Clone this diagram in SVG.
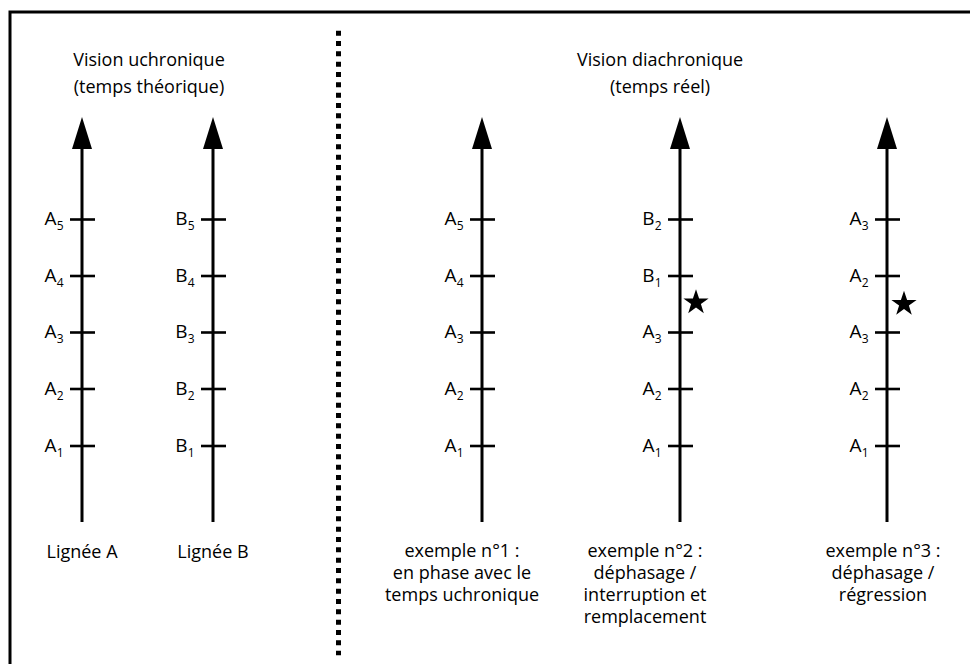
<svg xmlns="http://www.w3.org/2000/svg" width="970" height="664" viewBox="0 0 970 664">
<style>
text{font-family:"Open Sans","Noto Sans","DejaVu Sans",sans-serif;font-size:18px;fill:#000}
.lbl{text-anchor:end;font-size:19px}
.sub{font-size:12px}
.c{text-anchor:middle}
.axis{stroke:#000;stroke-width:3;fill:none}
.tick{stroke:#000;stroke-width:2.6}
.head{fill:#000}
</style>
<defs>
<polygon id="star" points="0,-13.3 3.1,-4.1 12.6,-4.1 4.9,1.6 7.8,10.8 0,5.1 -7.8,10.8 -4.9,1.6 -12.6,-4.1 -3.1,-4.1"/>
</defs>
<rect width="970" height="664" fill="#fff"/>
<path d="M10 664 V12 H970" fill="none" stroke="#000" stroke-width="3"/>
<line x1="338.5" y1="30.7" x2="338.5" y2="655.3" stroke="#000" stroke-width="5" stroke-dasharray="5 5.333"/>

<g id="title-left">
<text class="c" x="149" y="66">Vision uchronique</text>
<text class="c" x="149" y="93">(temps théorique)</text>
</g>
<g id="title-right">
<text class="c" x="660" y="66">Vision diachronique</text>
<text class="c" x="660" y="93">(temps réel)</text>
</g>

<g id="connectors">
<line class="axis" x1="82" y1="145" x2="82" y2="522"/>
<polygon class="head" points="82,117 92,149 72,149"/>
<line class="axis" x1="213" y1="145" x2="213" y2="522"/>
<polygon class="head" points="213,117 223,149 203,149"/>
<line class="axis" x1="482" y1="145" x2="482" y2="522"/>
<polygon class="head" points="482,117 492,149 472,149"/>
<line class="axis" x1="680" y1="145" x2="680" y2="522"/>
<polygon class="head" points="680,117 690,149 670,149"/>
<line class="axis" x1="887" y1="145" x2="887" y2="522"/>
<polygon class="head" points="887,117 897,149 877,149"/>
</g>

<g id="lineage-A">
<g class="tick">
<line x1="70" y1="219.5" x2="95" y2="219.5"/><line x1="70" y1="276" x2="95" y2="276"/><line x1="70" y1="332.5" x2="95" y2="332.5"/><line x1="70" y1="389" x2="95" y2="389"/><line x1="70" y1="446" x2="95" y2="446"/>
</g>
<text class="lbl" x="63.5" y="225">A<tspan class="sub" dy="5">5</tspan></text>
<text class="lbl" x="63.5" y="281.5">A<tspan class="sub" dy="5">4</tspan></text>
<text class="lbl" x="63.5" y="338">A<tspan class="sub" dy="5">3</tspan></text>
<text class="lbl" x="63.5" y="394.5">A<tspan class="sub" dy="5">2</tspan></text>
<text class="lbl" x="63.5" y="451.5">A<tspan class="sub" dy="5">1</tspan></text>
<text class="c" x="82" y="558">Lignée A</text>
</g>

<g id="lineage-B">
<g class="tick">
<line x1="201" y1="219.5" x2="226" y2="219.5"/><line x1="201" y1="276" x2="226" y2="276"/><line x1="201" y1="332.5" x2="226" y2="332.5"/><line x1="201" y1="389" x2="226" y2="389"/><line x1="201" y1="446" x2="226" y2="446"/>
</g>
<text class="lbl" x="194.5" y="225">B<tspan class="sub" dy="5">5</tspan></text>
<text class="lbl" x="194.5" y="281.5">B<tspan class="sub" dy="5">4</tspan></text>
<text class="lbl" x="194.5" y="338">B<tspan class="sub" dy="5">3</tspan></text>
<text class="lbl" x="194.5" y="394.5">B<tspan class="sub" dy="5">2</tspan></text>
<text class="lbl" x="194.5" y="451.5">B<tspan class="sub" dy="5">1</tspan></text>
<text class="c" x="213" y="558">Lignée B</text>
</g>

<g id="example-1">
<g class="tick">
<line x1="470" y1="219.5" x2="495" y2="219.5"/><line x1="470" y1="276" x2="495" y2="276"/><line x1="470" y1="332.5" x2="495" y2="332.5"/><line x1="470" y1="389" x2="495" y2="389"/><line x1="470" y1="446" x2="495" y2="446"/>
</g>
<text class="lbl" x="463.5" y="225">A<tspan class="sub" dy="5">5</tspan></text>
<text class="lbl" x="463.5" y="281.5">A<tspan class="sub" dy="5">4</tspan></text>
<text class="lbl" x="463.5" y="338">A<tspan class="sub" dy="5">3</tspan></text>
<text class="lbl" x="463.5" y="394.5">A<tspan class="sub" dy="5">2</tspan></text>
<text class="lbl" x="463.5" y="451.5">A<tspan class="sub" dy="5">1</tspan></text>
<text class="c" x="462" y="557">exemple n°1 :</text>
<text class="c" x="462" y="579">en phase avec le</text>
<text class="c" x="462" y="601">temps uchronique</text>
</g>

<g id="example-2">
<g class="tick">
<line x1="668" y1="219.5" x2="693" y2="219.5"/><line x1="668" y1="276" x2="693" y2="276"/><line x1="668" y1="332.5" x2="693" y2="332.5"/><line x1="668" y1="389" x2="693" y2="389"/><line x1="668" y1="446" x2="693" y2="446"/>
</g>
<text class="lbl" x="661.5" y="225">B<tspan class="sub" dy="5">2</tspan></text>
<text class="lbl" x="661.5" y="281.5">B<tspan class="sub" dy="5">1</tspan></text>
<text class="lbl" x="661.5" y="338">A<tspan class="sub" dy="5">3</tspan></text>
<text class="lbl" x="661.5" y="394.5">A<tspan class="sub" dy="5">2</tspan></text>
<text class="lbl" x="661.5" y="451.5">A<tspan class="sub" dy="5">1</tspan></text>
<use href="#star" x="696" y="302.5"/>
<text class="c" x="645" y="557">exemple n°2 :</text>
<text class="c" x="645" y="579">déphasage /</text>
<text class="c" x="645" y="601">interruption et</text>
<text class="c" x="645" y="623">remplacement</text>
</g>

<g id="example-3">
<g class="tick">
<line x1="875" y1="219.5" x2="900" y2="219.5"/><line x1="875" y1="276" x2="900" y2="276"/><line x1="875" y1="332.5" x2="900" y2="332.5"/><line x1="875" y1="389" x2="900" y2="389"/><line x1="875" y1="446" x2="900" y2="446"/>
</g>
<text class="lbl" x="868.5" y="225">A<tspan class="sub" dy="5">3</tspan></text>
<text class="lbl" x="868.5" y="281.5">A<tspan class="sub" dy="5">2</tspan></text>
<text class="lbl" x="868.5" y="338">A<tspan class="sub" dy="5">3</tspan></text>
<text class="lbl" x="868.5" y="394.5">A<tspan class="sub" dy="5">2</tspan></text>
<text class="lbl" x="868.5" y="451.5">A<tspan class="sub" dy="5">1</tspan></text>
<use href="#star" x="904" y="304"/>
<text class="c" x="883" y="557">exemple n°3 :</text>
<text class="c" x="883" y="579">déphasage /</text>
<text class="c" x="883" y="601">régression</text>
</g>
</svg>
